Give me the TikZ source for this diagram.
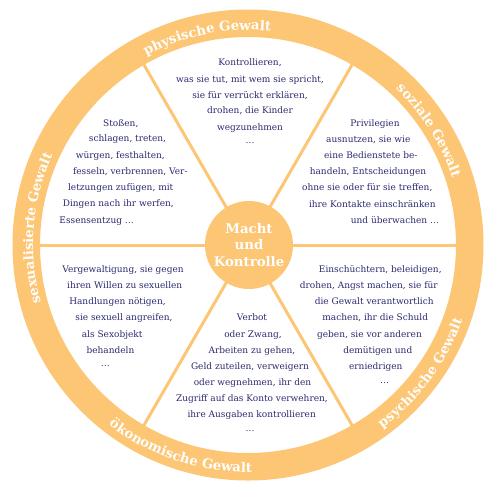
\documentclass[tikz,border=0pt]{standalone}
\usepackage{fontspec}
\setmainfont{DejaVu Serif}
\usetikzlibrary{decorations.text}
\definecolor{ringc}{HTML}{FDC675}
\definecolor{inkc}{HTML}{2B2A70}
\newcommand\ringfont{\fontsize{13.3}{13.3}\selectfont\bfseries}
\tikzset{
  body/.style={font=\fontsize{9}{11}\selectfont, text=inkc, inner sep=0pt, anchor=base},
  spoke/.style={draw=ringc, line width=3pt},
  hub/.style={circle, fill=ringc, minimum size=88pt, inner sep=0pt, text=white, align=center, font=\fontsize{13.3}{16.3}\selectfont\bfseries},
  ringlabel/.style={decorate, decoration={text along path, text align=center, text color=white, text={|\ringfont|#1}}}
}
\begin{document}
\begin{tikzpicture}[x=1pt,y=1pt]
\useasboundingbox (-248,-246) rectangle (252,245);
\fill[white] (-248,-246) rectangle (252,245);
\fill[ringc, even odd rule] (0,0) circle[radius=235.5] (0,0) circle[radius=208];
\foreach \a in {0,60,...,300} \draw[spoke] (\a:40) -- (\a:209);
\node[hub] (core) at (1,0) {Macht\\und\\Kontrolle};

% ring labels
\path[ringlabel={physische Gewalt}] (131.1:215) arc[start angle=131.1, end angle=71.1, radius=215];
\path[ringlabel={soziale Gewalt}] (62.3:215) arc[start angle=62.3, end angle=2.3, radius=215];
\path[ringlabel={sexualisierte Gewalt}] (205.4:215) arc[start angle=205.4, end angle=145.4, radius=215];
\path[ringlabel={psychische Gewalt}] (-66.5:227) arc[start angle=-66.5, end angle=-6.5, radius=227];
\path[ringlabel={ökonomische Gewalt}] (221.6:227.5) arc[start angle=221.6, end angle=281.6, radius=227.5];

% top sector
\node[body] (t1) at (2,179.7) {Kontrollieren,};
\node[body] (t2) at (2,163) {was sie tut, mit wem sie spricht,};
\node[body] (t3) at (2,147) {sie für verrückt erklären,};
\node[body] (t4) at (2,131.3) {drohen, die Kinder};
\node[body] (t5) at (2,114.7) {wegzunehmen};
\node[body] (t6) at (2,101.7) {…};

% left upper sector
\node[body] (l1) at (-127.2,118.7) {Stoßen,};
\node[body] (l2) at (-120.5,103.7) {schlagen, treten,};
\node[body] (l3) at (-127.7,87) {würgen, festhalten,};
\node[body] (l4) at (-117.7,71) {fesseln, verbrennen, Ver-};
\node[body] (l5) at (-127.3,54.3) {letzungen zufügen, mit};
\node[body] (l6) at (-129.7,38.7) {Dingen nach ihr werfen,};
\node[body] (l7) at (-151.3,22) {Essensentzug …};

% right upper sector
\node[body] (r1) at (127,118.7) {Privilegien};
\node[body] (r2) at (120.3,102.7) {ausnutzen, sie wie};
\node[body] (r3) at (122.8,86.3) {eine Bedienstete be-};
\node[body] (r4) at (120,70.3) {handeln, Entscheidungen};
\node[body] (r5) at (119.3,54.3) {ohne sie oder für sie treffen,};
\node[body] (r6) at (124.3,38) {ihre Kontakte einschränken};
\node[body] (r7) at (147,22) {und überwachen …};

% left lower sector
\node[body] (s1) at (-125,-27.3) {Vergewaltigung, sie gegen};
\node[body] (s2) at (-123.3,-43.7) {ihren Willen zu sexuellen};
\node[body] (s3) at (-130.5,-59.7) {Handlungen nötigen,};
\node[body] (s4) at (-124,-75.7) {sie sexuell angreifen,};
\node[body] (s5) at (-135.8,-92) {als Sexobjekt};
\node[body] (s6) at (-137.5,-108) {behandeln};
\node[body] (s7) at (-142.5,-121.7) {…};

% bottom sector
\node[body] (o1) at (4,-75.7) {Verbot};
\node[body] (o2) at (5,-92.3) {oder Zwang,};
\node[body] (o3) at (4,-108) {Arbeiten zu gehen,};
\node[body] (o4) at (2,-124.7) {Geld zuteilen, verweigern};
\node[body] (o5) at (4.5,-140.7) {oder wegnehmen, ihr den};
\node[body] (o6) at (4,-156.7) {Zugriff auf das Konto verwehren,};
\node[body] (o7) at (3.7,-172.7) {ihre Ausgaben kontrollieren};
\node[body] (o8) at (2,-186.7) {…};

% right lower sector
\node[body] (p1) at (132.3,-27.3) {Einschüchtern, beleidigen,};
\node[body] (p2) at (120.8,-43.7) {drohen, Angst machen, sie für};
\node[body] (p3) at (126.2,-59.7) {die Gewalt verantwortlich};
\node[body] (p4) at (127.3,-75.7) {machen, ihr die Schuld};
\node[body] (p5) at (121.5,-92.3) {geben, sie vor anderen};
\node[body] (p6) at (129.8,-108.3) {demütigen und};
\node[body] (p7) at (127.8,-124.7) {erniedrigen};
\node[body] (p8) at (136.5,-138.3) {…};
\end{tikzpicture}
\end{document}
